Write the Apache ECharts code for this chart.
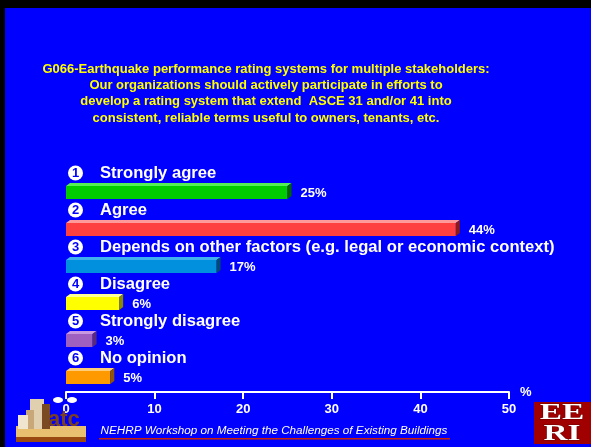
<!DOCTYPE html>
<html>
<head>
<meta charset="utf-8">
<script src="https://cdn.jsdelivr.net/npm/echarts@6/dist/echarts.min.js"></script>
<style>
html,body{margin:0;padding:0;background:#0000FF;}
#chart{width:591px;height:447px;}
</style>
</head>
<body>
<div id="chart"></div>
<script>
// ---- data ----
const titleLines = [
  'G066-Earthquake performance rating systems for multiple stakeholders:',
  'Our organizations should actively participate in efforts to',
  'develop a rating system that extend  ASCE 31 and/or 41 into',
  'consistent, reliable terms useful to owners, tenants, etc.'
];
const categories = ['Strongly agree', 'Agree', 'Depends on other factors (e.g. legal or economic context)', 'Disagree', 'Strongly disagree', 'No opinion'];
const itemNumbers = ['1', '2', '3', '4', '5', '6'];
const values = [25, 44, 17, 6, 3, 5];
const axisMin = 0, axisMax = 50, axisStep = 10;
const footerText = 'NEHRP Workshop on Meeting the Challenges of Existing Buildings';

// ---- styles ----
const faces = [
  {front: '#00CC00', top: '#55EE55', side: '#006600'},
  {front: '#FF4040', top: '#FF9A9A', side: '#8A1A1A'},
  {front: '#0090DD', top: '#40B0EE', side: '#004A70'},
  {front: '#FFFF00', top: '#FFFF99', side: '#8A8A00'},
  {front: '#A060C0', top: '#C898E0', side: '#5A2A78'},
  {front: '#FF9900', top: '#FFCC77', side: '#905500'}
];
const FONT = '"Liberation Sans", Arial, sans-serif';

const chart = echarts.init(document.getElementById('chart'));
chart.setOption({
  backgroundColor: '#0000FF',
  animation: false,
  grid: {left: 66, right: 82, top: 170, bottom: 55},
  xAxis: {
    type: 'value', min: axisMin, max: axisMax, interval: axisStep,
    name: '%', nameLocation: 'end', nameGap: 11,
    nameTextStyle: {color: '#fff', fontFamily: FONT, fontWeight: 'bold', fontSize: 13, verticalAlign: 'middle', padding: [0, 0, 4, 0]},
    axisLine: {show: true, lineStyle: {color: '#fff', width: 2}},
    axisTick: {show: true, length: 7, lineStyle: {color: '#fff', width: 2}},
    splitLine: {show: false},
    axisLabel: {color: '#fff', fontFamily: FONT, fontWeight: 'bold', fontSize: 13, margin: 11}
  },
  yAxis: {
    type: 'category', data: categories, inverse: true,
    axisLine: {show: false}, axisTick: {show: false}, splitLine: {show: false},
    axisLabel: {
      inside: true, margin: 2, verticalAlign: 'middle', padding: [0, 0, 31, 0],
      formatter: (val, idx) => '{c|' + itemNumbers[idx] + '}{t|' + val + '}',
      rich: {
        c: {backgroundColor: '#fff', color: '#0000FF', borderRadius: 7.5, width: 15, height: 15, lineHeight: 15,
            align: 'center', fontSize: 13, fontWeight: 'bold', fontFamily: FONT},
        t: {color: '#fff', fontSize: 16.6, fontWeight: 'bold', fontFamily: FONT, padding: [0, 0, 0, 17]}
      }
    }
  },
  series: [{
    type: 'custom',
    data: values.map((v, i) => [v, i]),
    encode: {x: 0, y: 1},
    renderItem: function (params, api) {
      const v = api.value(0), i = api.value(1);
      const a = api.coord([0, i]), b = api.coord([v, i]);
      const c = a[1] + 4, x0 = a[0], x1 = b[0], h = 6.5, dx = 4, dy = 3;
      const f = faces[params.dataIndex];
      return {
        type: 'group',
        children: [
          {type: 'rect', shape: {x: x0, y: c - h, width: x1 - x0, height: 2 * h}, style: {fill: f.front}},
          {type: 'polygon', shape: {points: [[x0, c - h], [x0 + dx, c - h - dy], [x1 + dx, c - h - dy], [x1, c - h]]}, style: {fill: f.top}},
          {type: 'polygon', shape: {points: [[x1, c - h], [x1 + dx, c - h - dy], [x1 + dx, c + h - dy], [x1, c + h]]}, style: {fill: f.side}},
          {type: 'text', style: {text: v + '%', x: x1 + 13, y: c + 1, verticalAlign: 'middle', fill: '#fff',
            font: 'bold 13px ' + FONT}}
        ]
      };
    }
  }],
  graphic: [
    {type: 'rect', left: 0, top: 0, shape: {width: 591, height: 8}, style: {fill: '#000'}, z: 10},
    {type: 'rect', left: 0, top: 0, shape: {width: 5, height: 447}, style: {fill: '#000'}, z: 10},
    // title
    {type: 'text', x: 266, y: 61, style: {text: titleLines.join('\n'), fill: '#FFFF00', font: 'bold 13px ' + FONT,
      lineHeight: 16.3, textAlign: 'center', textVerticalAlign: 'top'}},
    // footer
    {type: 'text', x: 274, y: 431, style: {text: footerText, fill: '#fff', font: 'italic 11.7px ' + FONT, textAlign: 'center', textVerticalAlign: 'middle'}},
    {type: 'rect', shape: {x: 99, y: 438, width: 351, height: 1.5}, style: {fill: '#CC2200'}},
    // EERI logo
    {type: 'rect', shape: {x: 534, y: 402, width: 57, height: 42}, style: {fill: '#A00000'}},
    {type: 'text', x: 562, y: 413, scaleX: 1.45, originX: 0, originY: 0,
      style: {text: 'EE', fill: '#fff', stroke: '#700000', lineWidth: 1, font: 'bold 23px "Liberation Serif", serif', textAlign: 'center', textVerticalAlign: 'middle'}},
    {type: 'text', x: 562, y: 434, scaleX: 1.45, originX: 0, originY: 0,
      style: {text: 'RI', fill: '#fff', stroke: '#700000', lineWidth: 1, font: 'bold 23px "Liberation Serif", serif', textAlign: 'center', textVerticalAlign: 'middle'}},
    // ATC logo (approximation)
    {type: 'rect', shape: {x: 16, y: 426, width: 70, height: 12}, style: {fill: '#E8C070'}, z: 5},
    {type: 'rect', shape: {x: 16, y: 437, width: 70, height: 5}, style: {fill: '#9A4A10'}, z: 5},
    {type: 'rect', shape: {x: 30, y: 399, width: 14, height: 30}, style: {fill: '#E0D0B0'}, z: 5},
    {type: 'rect', shape: {x: 26, y: 410, width: 8, height: 19}, style: {fill: '#C8A878'}, z: 5},
    {type: 'rect', shape: {x: 18, y: 415, width: 10, height: 14}, style: {fill: '#F0E6D0'}, z: 5},
    {type: 'rect', shape: {x: 42, y: 404, width: 8, height: 25}, style: {fill: '#7A4A22'}, z: 5},
    {type: 'text', x: 48, y: 420, style: {text: 'atc', fill: '#7A4020', font: 'bold 22px "Liberation Sans", sans-serif', textVerticalAlign: 'middle'}, z: 5},
    {type: 'ellipse', shape: {cx: 58, cy: 400, rx: 5, ry: 3}, style: {fill: '#fff'}, z: 5},
    {type: 'ellipse', shape: {cx: 72, cy: 400, rx: 5, ry: 3}, style: {fill: '#fff'}, z: 5}
  ]
});
</script>
</body>
</html>
